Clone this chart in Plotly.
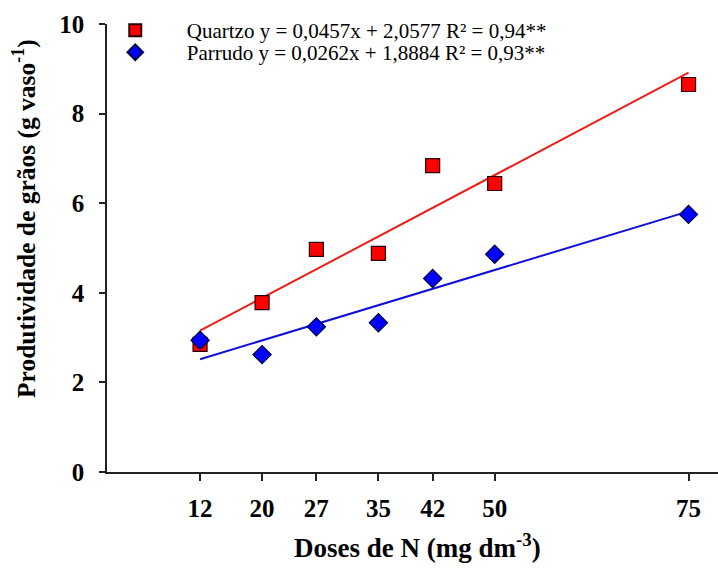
import plotly.graph_objects as go

# Doses de N (mg dm-3)
doses = [12, 20, 27, 35, 42, 50, 75]

# Produtividade de grãos (g vaso-1)
quartzo = [2.85, 3.78, 4.97, 4.88, 6.84, 6.44, 8.65]
parrudo = [2.94, 2.62, 3.24, 3.33, 4.32, 4.86, 5.75]

y_ticks = [0, 2, 4, 6, 8, 10]

# Regression coefficients (slope, intercept) as printed in the legend;
# the equations were fitted on twice the dose scale.
quartzo_fit = (0.0457, 2.0577)
parrudo_fit = (0.0262, 1.8884)
fit_scale = 2.0

quartzo_label = "Quartzo y = 0,0457x + 2,0577 R² = 0,94**"
parrudo_label = "Parrudo y = 0,0262x + 1,8884 R² = 0,93**"

fit_x = [doses[0], doses[-1]]


def fit_line(coef):
    a, b = coef
    return [a * fit_scale * x + b for x in fit_x]


SERIF = "Liberation Serif"
GAP = "\u00a0" * 6

fig = go.Figure()

fig.add_trace(go.Scatter(
    x=fit_x, y=fit_line(quartzo_fit), mode="lines",
    line=dict(color="#e8201a", width=2), showlegend=False, hoverinfo="skip"))
fig.add_trace(go.Scatter(
    x=fit_x, y=fit_line(parrudo_fit), mode="lines",
    line=dict(color="#1010d8", width=2), showlegend=False, hoverinfo="skip"))

fig.add_trace(go.Scatter(
    x=doses, y=quartzo, mode="markers", name=GAP + quartzo_label,
    legend="legend",
    marker=dict(symbol="square", size=14, color="#ff0000",
                line=dict(color="#2a0000", width=1.2))))
fig.add_trace(go.Scatter(
    x=doses, y=parrudo, mode="markers", name=GAP + parrudo_label,
    legend="legend2",
    marker=dict(symbol="diamond", size=14, color="#0000ff",
                line=dict(color="#00003a", width=1.2))))

legend_style = dict(
    xanchor="left", yanchor="top",
    bgcolor="rgba(0,0,0,0)", borderwidth=0,
    font=dict(family=SERIF, size=21, color="black"),
    itemsizing="constant",
)

fig.update_layout(
    width=718, height=574,
    margin=dict(l=107, r=0, t=24, b=102),
    paper_bgcolor="white", plot_bgcolor="white",
    font=dict(family=SERIF, color="black"),
    showlegend=True,
    legend=dict(x=0.0135, y=1.031, **legend_style),
    legend2=dict(x=0.0135, y=0.982, **legend_style),
    xaxis=dict(
        range=[0, 78.8],
        tickmode="array", tickvals=doses, ticktext=[str(d) for d in doses],
        ticks="outside", ticklen=7, tickwidth=1.5, tickcolor="#222",
        showline=True, linecolor="#222", linewidth=1.5,
        showgrid=False, zeroline=False,
        ticklabelstandoff=6,
        tickfont=dict(family=SERIF, size=25, weight="bold", color="black"),
    ),
    yaxis=dict(
        range=[0, 10],
        tickmode="array", tickvals=y_ticks,
        ticks="outside", ticklen=6, tickwidth=1.5, tickcolor="#222",
        showline=True, linecolor="#222", linewidth=1.5,
        showgrid=False, zeroline=False,
        ticklabelstandoff=10,
        tickfont=dict(family=SERIF, size=25, weight="bold", color="black"),
    ),
)

# Axis titles
fig.add_annotation(
    text="Doses de N (mg dm<sup>-3</sup>)",
    xref="paper", yref="paper", x=0.509, y=-0.165,
    xanchor="center", yanchor="middle", showarrow=False,
    font=dict(family=SERIF, size=27, weight="bold", color="black"))
fig.add_annotation(
    text="Produtividade de grãos (g vaso<sup>-1</sup>)",
    xref="paper", yref="paper", x=-0.134, y=0.565, textangle=-90,
    xanchor="center", yanchor="middle", showarrow=False,
    font=dict(family=SERIF, size=25.5, weight="bold", color="black"))

fig.write_html("out.html")
